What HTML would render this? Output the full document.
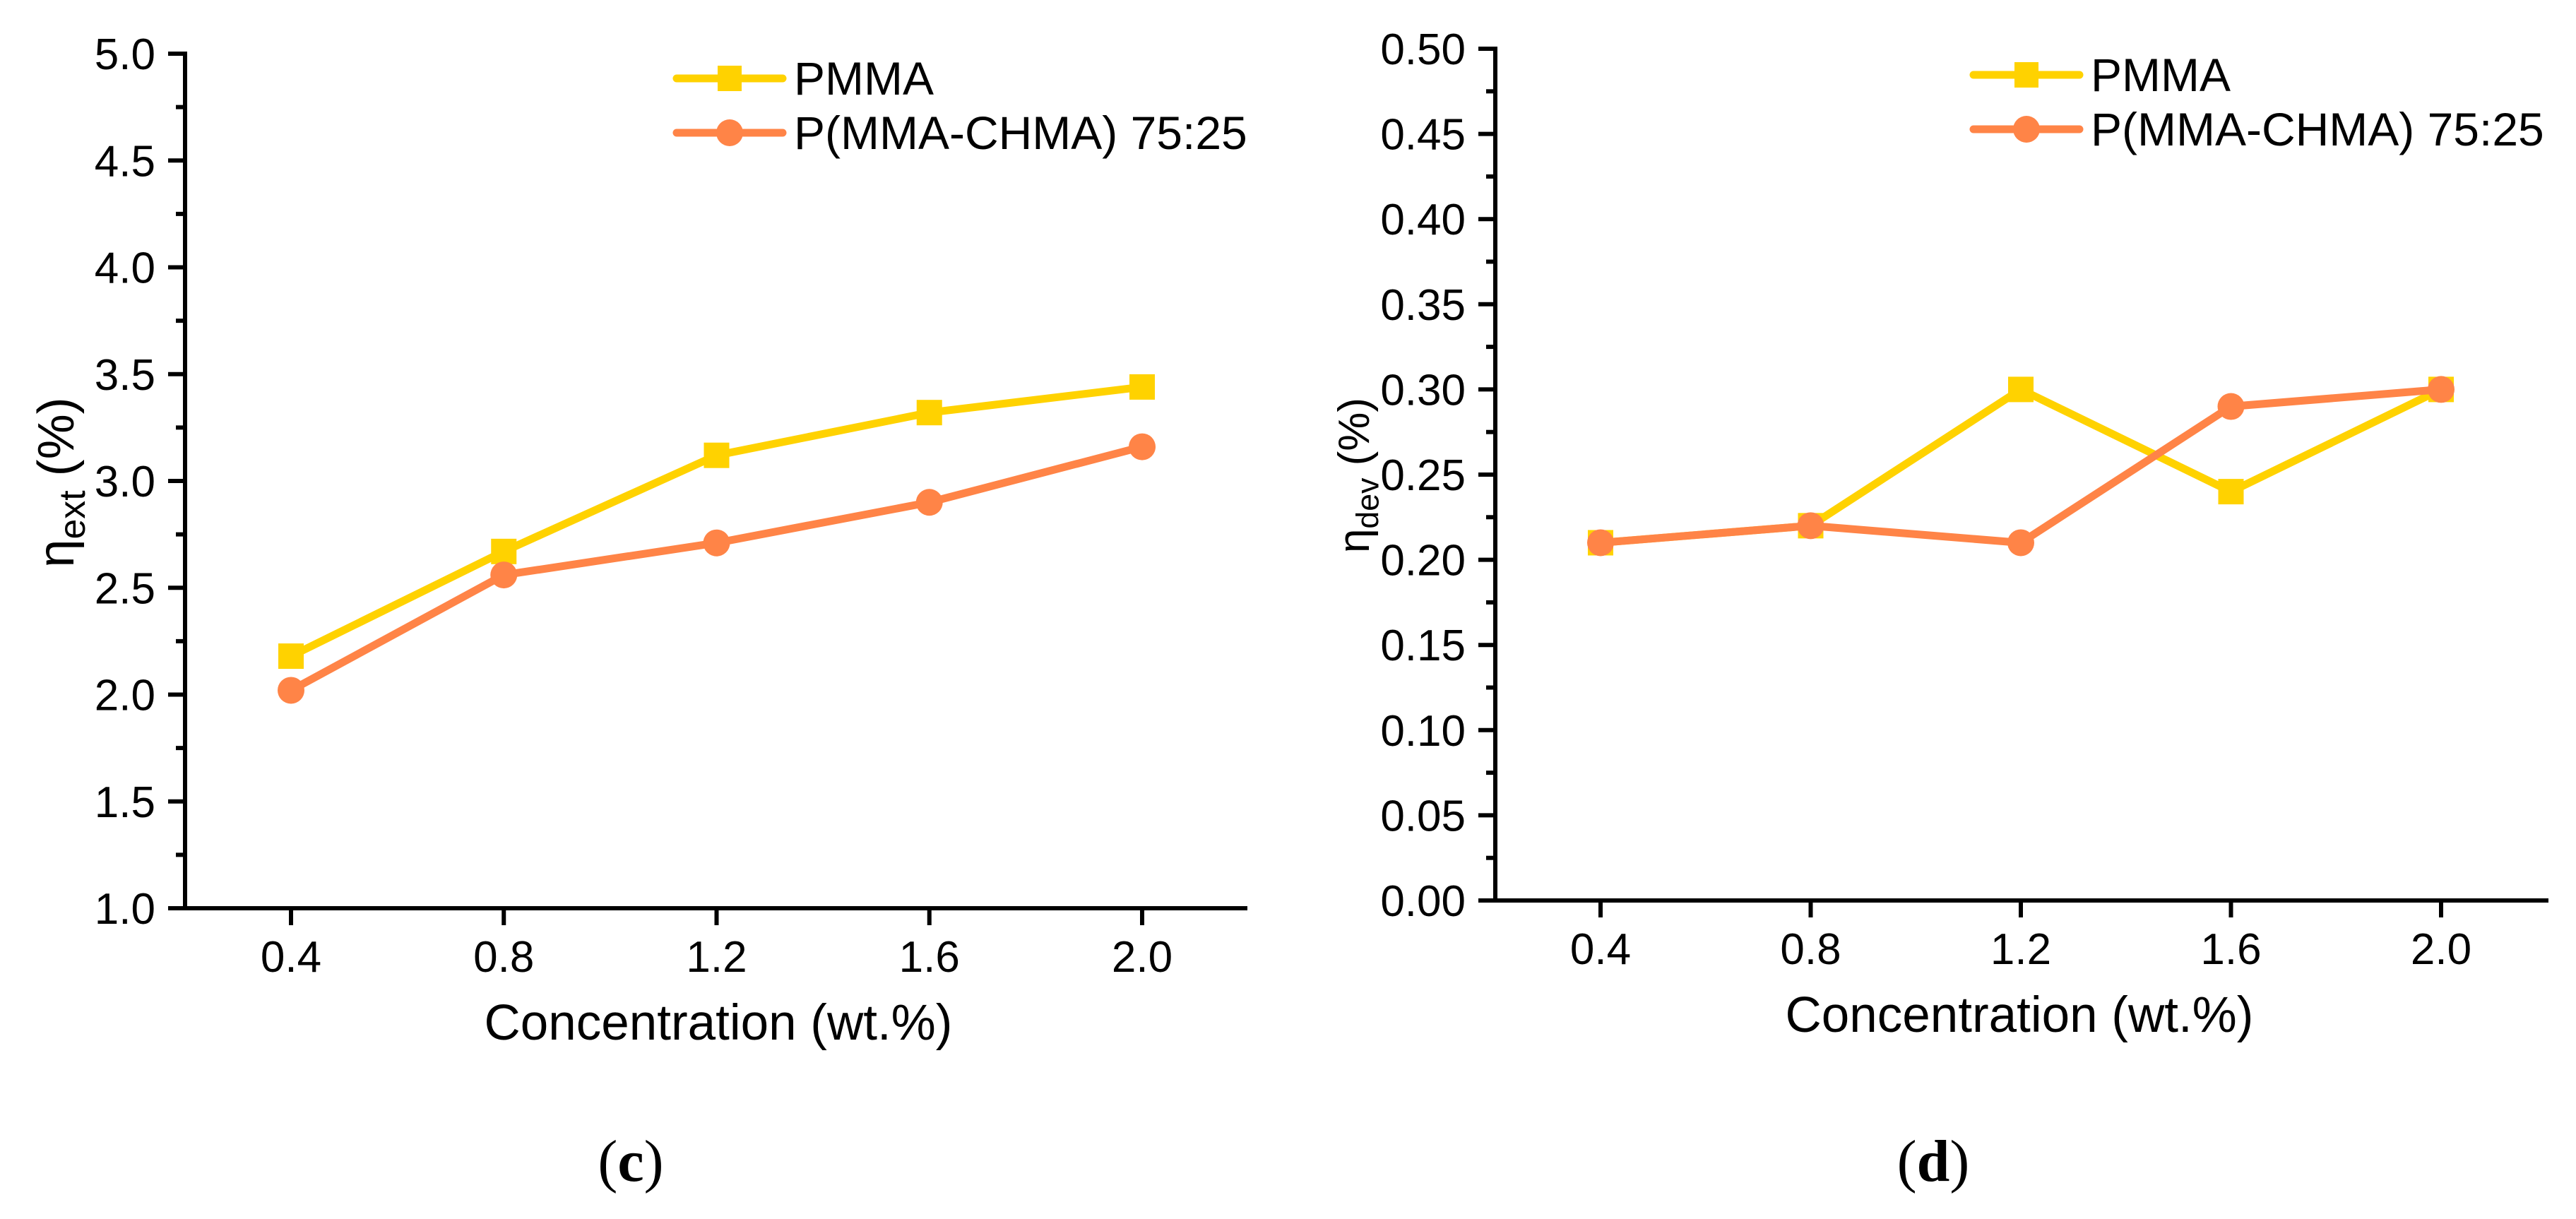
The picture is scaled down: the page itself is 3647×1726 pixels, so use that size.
<!DOCTYPE html>
<html><head><meta charset="utf-8"><style>
html,body{margin:0;padding:0;background:#fff;}
svg{display:block;font-family:"Liberation Sans",Arial,sans-serif;}
</style></head><body>
<svg id="fig" width="3647" height="1726" viewBox="0 0 3647 1726" xmlns="http://www.w3.org/2000/svg">
<rect width="3647" height="1726" fill="#fff"/>
</svg>
<script>
const categories = [0.4, 0.8, 1.2, 1.6, 2.0];
const xTickLabels = ["0.4", "0.8", "1.2", "1.6", "2.0"];
const extPMMA = [2.18, 2.67, 3.12, 3.32, 3.44];
const extCopolymer = [2.02, 2.56, 2.71, 2.90, 3.16];
const devPMMA = [0.21, 0.22, 0.30, 0.24, 0.30];
const devCopolymer = [0.21, 0.22, 0.21, 0.29, 0.30];
const extTicks = ["1.0","1.5","2.0","2.5","3.0","3.5","4.0","4.5","5.0"];
const devTicks = ["0.00","0.05","0.10","0.15","0.20","0.25","0.30","0.35","0.40","0.45","0.50"];
const seriesNames = ["PMMA", "P(MMA-CHMA) 75:25"];

const NS = "http://www.w3.org/2000/svg";
const svg = document.getElementById('fig');
const YEL = "#FFD200", ORG = "#FF8447";
function mk(tag, attrs, parent) {
  const e = document.createElementNS(NS, tag);
  for (const k in attrs) e.setAttribute(k, attrs[k]);
  (parent || svg).appendChild(e);
  return e;
}

function chart(cfg) {
  const g = mk('g', {});
  
  
  const xS = v => cfg.x0 + (v - 0.4) / 1.6 * (cfg.x1 - cfg.x0);
  const yS = v => cfg.yB - (v - cfg.yMin) / (cfg.yMax - cfg.yMin) * (cfg.yB - cfg.yT);
  const ax = mk('path', {d:`M${cfg.ax} ${cfg.yT-3} V${cfg.yB} H${cfg.xEnd}`, stroke:'#000','stroke-width':6, fill:'none'}, g);
  
  
  const n = cfg.yTicks.length;
  for (let i = 0; i < n; i++) {
    const v = cfg.yMin + i * cfg.yStep;
    const y = yS(v);
    mk('line', {x1:cfg.ax-24, x2:cfg.ax, y1:y, y2:y, stroke:'#000','stroke-width':6}, g);
    const t = mk('text', {x:cfg.labR, y:y+22, 'text-anchor':'end', 'font-size':62}, g);
    t.textContent = cfg.yTicks[i];
    
    
    if (i < n - 1) {
      const ym = yS(v + cfg.yStep / 2);
      mk('line', {x1:cfg.ax-13, x2:cfg.ax, y1:ym, y2:ym, stroke:'#000','stroke-width':6}, g);
    }
  }
  categories.forEach((c, i) => {
    const x = xS(c);
    mk('line', {x1:x, x2:x, y1:cfg.yB, y2:cfg.yB+24, stroke:'#000','stroke-width':6}, g);
    const t = mk('text', {x:x, y:cfg.yB+90, 'text-anchor':'middle', 'font-size':62}, g);
    t.textContent = xTickLabels[i];
    
    
  });
  const xt = mk('text', {x:cfg.xtX, y:cfg.yB+186, 'text-anchor':'middle', 'font-size':71}, g);
  xt.textContent = "Concentration (wt.%)";
  
  
  const yt = mk('text', {transform:`translate(${cfg.ytX},${cfg.ytY}) rotate(-90)`, 'text-anchor':'middle', 'font-size':cfg.ytSize}, g);
  
  
  yt.innerHTML = `η<tspan font-size="${cfg.ytSize*0.72}" dy="${cfg.ytSize*0.22}">${cfg.sub}</tspan><tspan dy="${-cfg.ytSize*0.22}"> (%)</tspan>`;
  const series = [[cfg.s1, YEL, 'square'], [cfg.s2, ORG, 'circle']];
  series.forEach(([vals, col, shape], si) => {
    const sg = mk('g', {}, g);
    
    
    const pts = vals.map((v, i) => `${xS(categories[i])},${yS(v)}`).join(' ');
    mk('polyline', {points:pts, fill:'none', stroke:col, 'stroke-width':11, 'stroke-linejoin':'round', 'stroke-linecap':'round'}, sg);
    vals.forEach((v, i) => {
      const x = xS(categories[i]), y = yS(v);
      let m;
      if (shape === 'square') m = mk('rect', {x:x-18, y:y-18, width:36, height:36, fill:col}, sg);
      else m = mk('circle', {cx:x, cy:y, r:19, fill:col}, sg);
      
      
    });
  });
  const lg = mk('g', {}, g);
  
  
  [[YEL, 'square', cfg.legY1], [ORG, 'circle', cfg.legY2]].forEach(([col, shape, y], i) => {
    const eg = mk('g', {}, lg);
    
    
    mk('line', {x1:cfg.legX, x2:cfg.legX+150, y1:y, y2:y, stroke:col, 'stroke-width':11, 'stroke-linecap':'round'}, eg);
    const cx = cfg.legX + 75;
    if (shape === 'square') mk('rect', {x:cx-17, y:y-18, width:34, height:36, fill:col}, eg);
    else mk('circle', {cx:cx, cy:y, r:19, fill:col}, eg);
    const t = mk('text', {x:cfg.legX+166, y:y+23, 'font-size':66}, eg);
    t.textContent = seriesNames[i];
  });
  const pl = mk('text', {x:cfg.plX, y:1672, 'text-anchor':'middle', 'font-size':84, 'font-family':'"Liberation Serif",serif'}, g);
  pl.innerHTML = `(<tspan font-weight="bold">${cfg.panel}</tspan>)`;
  
  
}

chart({name:'chart-eta-ext', ax:262, yT:76, yB:1286, x0:412, x1:1617, xEnd:1766,
  yMin:1.0, yMax:5.0, yStep:0.5, yTicks:extTicks, labR:220,
  xtX:1017, ytX:104, ytY:683, ytSize:72, sub:'ext',
  s1:extPMMA, s2:extCopolymer, legX:958, legY1:111, legY2:188, plX:893, panel:'c'});
chart({name:'chart-eta-dev', ax:2117, yT:69, yB:1275, x0:2266, x1:3456, xEnd:3608,
  yMin:0.0, yMax:0.5, yStep:0.05, yTicks:devTicks, labR:2075,
  xtX:2859, ytX:1938, ytY:673, ytSize:62, sub:'dev',
  s1:devPMMA, s2:devCopolymer, legX:2794, legY1:106, legY2:183, plX:2737, panel:'d'});
</script>
</body></html>
